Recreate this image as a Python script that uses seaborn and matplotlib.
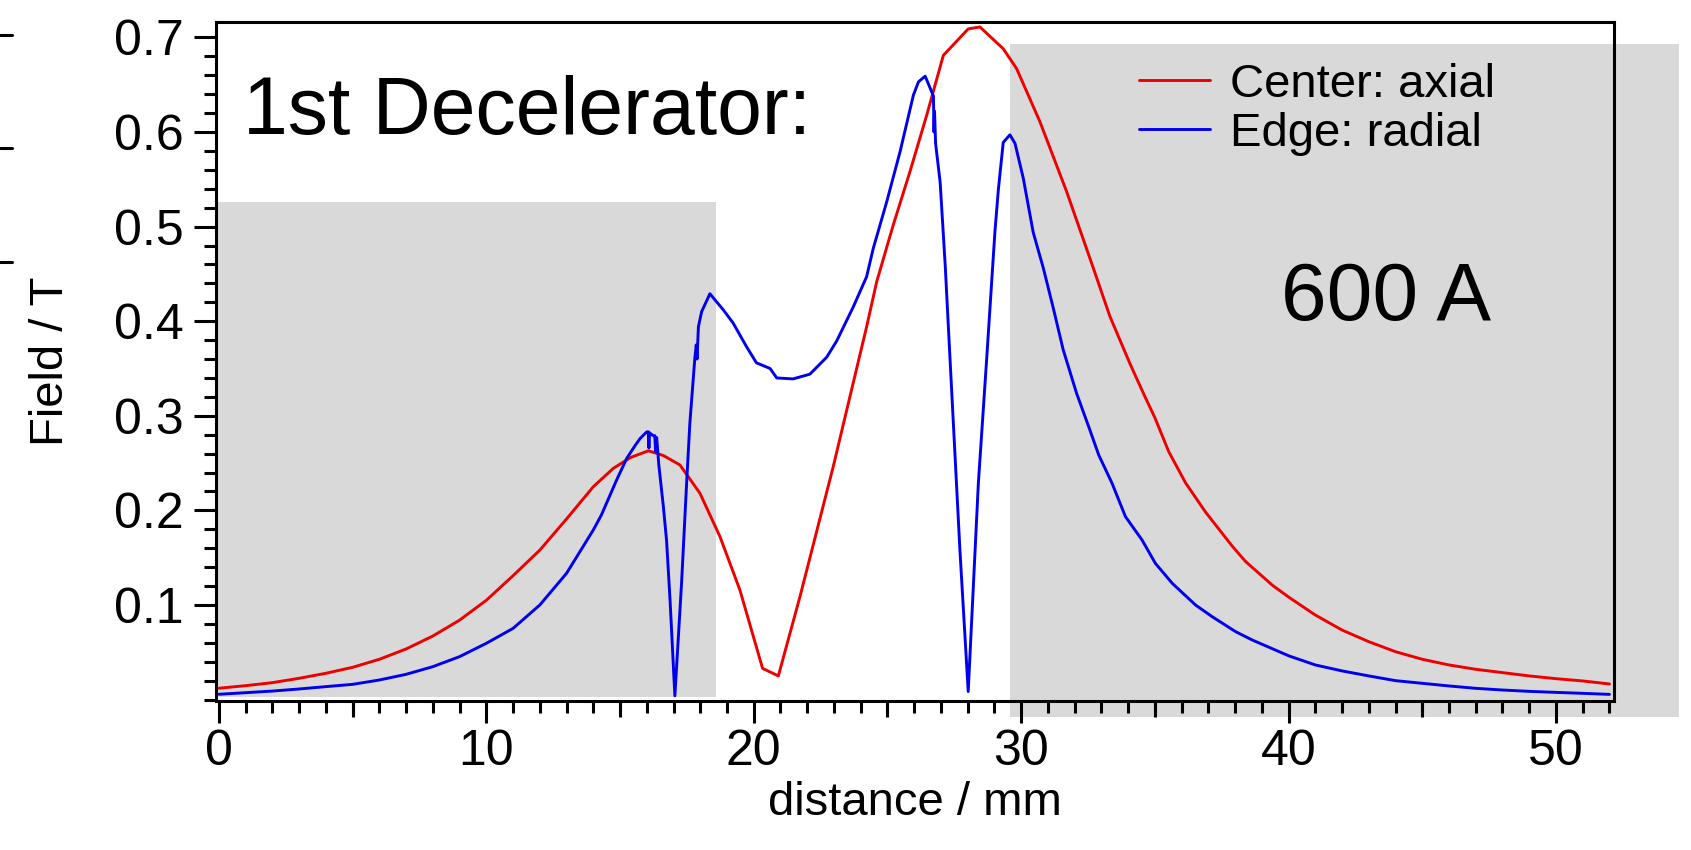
import numpy as np
import pandas as pd
import matplotlib
matplotlib.use("Agg")
import matplotlib.pyplot as plt
import seaborn as sns
from matplotlib.patches import Rectangle
from matplotlib.lines import Line2D
from matplotlib.ticker import FixedLocator, MultipleLocator, FormatStrFormatter

# ---------------- data ----------------
center_x = [0, 1, 2, 3, 4, 5, 6, 7, 8, 9, 10, 11, 12, 13, 14, 14.75, 15.4, 16.06,
            16.62, 17.24, 17.99, 18.74, 19.48, 20.33, 20.92, 21.73, 22.97, 24.22,
            24.6, 25.22, 25.84, 26.47, 27.09, 28.02, 28.46, 29.33, 29.83, 30.7,
            31.7, 32.7, 33.32, 34.07, 34.6, 35.0, 35.52, 36.15, 36.9, 37.9, 38.39,
            39.39, 40.02, 41, 42, 43, 44, 45, 46, 47, 48, 49, 50, 51, 52]
center_y = [0.012, 0.0147, 0.0179, 0.0225, 0.0278, 0.0341, 0.0426, 0.0535, 0.0672,
            0.084, 0.105, 0.131, 0.158, 0.191, 0.225, 0.2445, 0.256, 0.263,
            0.258, 0.248, 0.218, 0.172, 0.116, 0.033, 0.025, 0.109, 0.246, 0.394,
            0.442, 0.502, 0.558, 0.618, 0.681, 0.709, 0.711, 0.688, 0.667, 0.611,
            0.537, 0.456, 0.405, 0.355, 0.322, 0.298, 0.262, 0.229, 0.198, 0.162, 0.146,
            0.121, 0.108, 0.0894, 0.0735, 0.0612, 0.0506, 0.0426, 0.0366, 0.032,
            0.0285, 0.025, 0.0221, 0.0197, 0.0165]

edge_x = [0, 1, 2, 3, 4, 5, 6, 7, 8, 9, 10, 11, 12, 13, 14, 14.3, 14.87, 15.25,
          15.55, 15.75, 16.0, 16.06, 16.08, 16.1, 16.24, 16.3, 16.33, 16.37, 16.45,
          16.62, 16.74, 16.87, 17.05, 17.3, 17.49, 17.61, 17.8, 17.85, 17.88, 17.93,
          18.05, 18.36, 18.86, 19.23, 19.73, 20.1, 20.61, 20.86, 21.47, 22.1,
          22.73, 23.1, 23.72, 24.22, 24.47, 24.97, 25.47, 25.97, 26.16, 26.41,
          26.72, 26.74, 26.76, 26.8, 26.97, 27.16, 27.34, 27.71, 28.02, 28.4,
          28.71, 29.02, 29.15, 29.33, 29.58, 29.77, 30.08, 30.45, 30.83, 31.2,
          31.57, 32.07, 32.57, 32.9, 33.4, 33.9, 34.52, 35.02, 35.65, 36.52,
          37.14, 38.02, 38.64, 40.02, 41, 42, 43, 44, 45, 46, 47, 48, 49, 50,
          51, 52]
edge_y = [0.0056, 0.0073, 0.009, 0.0112, 0.0137, 0.0161, 0.0207, 0.0267, 0.0348,
          0.0454, 0.0595, 0.0753, 0.100, 0.1335, 0.1793, 0.195, 0.232, 0.255,
          0.268, 0.276, 0.283, 0.283, 0.266, 0.282, 0.279, 0.279, 0.262, 0.277, 0.248,
          0.204, 0.168, 0.105, 0.004, 0.123, 0.229, 0.292, 0.362, 0.375, 0.36, 0.394,
          0.410, 0.429, 0.412, 0.398, 0.373, 0.356, 0.350, 0.340, 0.339, 0.344,
          0.362, 0.379, 0.415, 0.447, 0.477, 0.526, 0.579, 0.639, 0.653, 0.659,
          0.638, 0.600, 0.622, 0.588, 0.547, 0.459, 0.360, 0.158, 0.0085, 0.229,
          0.360, 0.495, 0.540, 0.589, 0.597, 0.588, 0.551, 0.494, 0.456, 0.414,
          0.370, 0.324, 0.285, 0.2586, 0.2286, 0.1934, 0.1687, 0.144, 0.1229, 0.100,
          0.0877, 0.0718, 0.063, 0.0461, 0.0366, 0.0303, 0.025, 0.020, 0.0172,
          0.0144, 0.0119, 0.0101, 0.0087, 0.0076, 0.0066, 0.0055]

series_names = ["Center: axial", "Edge: radial"]
series_colors = ["#ee0000", "#0000ee"]

x_major = [0, 10, 20, 30, 40, 50]
x_mid = [5, 15, 25, 35, 45]
y_major = [0.1, 0.2, 0.3, 0.4, 0.5, 0.6, 0.7]

# shaded regions (mm, T)
shade_left = (-0.12, 18.59, 0.003, 0.526)
shade_right = (29.6, 54.6, -0.0184, 0.693)

df = pd.concat([
    pd.DataFrame({"distance": center_x, "field": center_y, "series": series_names[0]}),
    pd.DataFrame({"distance": edge_x, "field": edge_y, "series": series_names[1]}),
])

# ---------------- figure ----------------
sns.set_theme(style="ticks")
plt.rcParams["font.family"] = ["Liberation Sans", "DejaVu Sans"]
plt.rcParams["text.color"] = "black"

W, H = 1691, 850
fig = plt.figure(figsize=(W / 100, H / 100), dpi=100)
L, R, B, T = 216, 1614, 701, 21.6
ax = fig.add_axes([L / W, 1 - B / H, (R - L) / W, (B - T) / H])

xlim = (-0.11, 52.17)
ylim = (-0.0015, 0.7167)
ax.set_xlim(*xlim)
ax.set_ylim(*ylim)

grey = "#d9d9d9"
for (x0, x1, y0, y1), clip in [(shade_left, True), (shade_right, False)]:
    ax.add_patch(Rectangle((x0, y0), x1 - x0, y1 - y0, facecolor=grey,
                           edgecolor="none", zorder=0, clip_on=clip))

LW = 2.1
sns.lineplot(data=df, x="distance", y="field", hue="series",
             palette=dict(zip(series_names, series_colors)),
             estimator=None, sort=False, linewidth=LW, ax=ax, zorder=3)

# legend
handles = [Line2D([], [], color=c, lw=LW) for c in series_colors]
ax.legend(handles, series_names, loc="upper left",
          bbox_to_anchor=(1139 / W, 1 - 63 / H), bbox_transform=fig.transFigure,
          frameon=False, fontsize=34, handlelength=1.5, handletextpad=0.42,
          labelspacing=0.1, borderpad=0, borderaxespad=0, labelcolor="black")

# spines / ticks
for s in ax.spines.values():
    s.set_linewidth(2.2)
    s.set_color("black")
    s.set_zorder(4)

ax.xaxis.set_major_locator(FixedLocator(x_major))
ax.xaxis.set_minor_locator(MultipleLocator(1))
ax.yaxis.set_major_locator(FixedLocator(y_major))
ax.yaxis.set_minor_locator(MultipleLocator(0.02))
ax.yaxis.set_major_formatter(FormatStrFormatter("%.1f"))

ax.tick_params(axis="both", which="major", direction="out", length=15.5,
               width=2.2, color="black", labelsize=36, labelcolor="black")
ax.tick_params(axis="both", which="minor", direction="out", length=8.5,
               width=2.2, color="black")
ax.tick_params(axis="x", which="major", pad=5)
ax.tick_params(axis="y", which="major", pad=8)
ax.tick_params(top=False, right=False, which="both")

ax5 = ax.twiny()
ax5.set_xlim(*xlim)
ax5.xaxis.set_major_locator(FixedLocator(x_mid))
ax5.tick_params(axis="x", which="both", bottom=True, top=False, labelbottom=False,
                labeltop=False, direction="out", length=11.5, width=2.2, color="black")
ax5.xaxis.set_minor_locator(FixedLocator([]))
for s in ax5.spines.values():
    s.set_visible(False)
ax5.patch.set_visible(False)

ax.set_xlabel("distance / mm", fontsize=34, color="black")
ax.set_ylabel("Field / T", fontsize=34, color="black")
ax.xaxis.set_label_coords(0.5, -0.118)
ax.yaxis.set_label_coords(-0.1023, 0.5)

# annotations
fig.text(243 / W, 1 - 134 / H, "1st Decelerator:", fontsize=58, ha="left",
         va="baseline", color="black")
fig.text(1281 / W, 1 - 320 / H, "600 A", fontsize=59, ha="left",
         va="baseline", color="black")

# stray tick marks of a neighbouring panel at the far left edge
for yy in [35, 148, 262]:
    fig.add_artist(Line2D([0, 12 / W], [1 - yy / H, 1 - yy / H],
                          transform=fig.transFigure, color="black", lw=2.2))

fig.savefig("out.png", dpi=100, facecolor="white")
